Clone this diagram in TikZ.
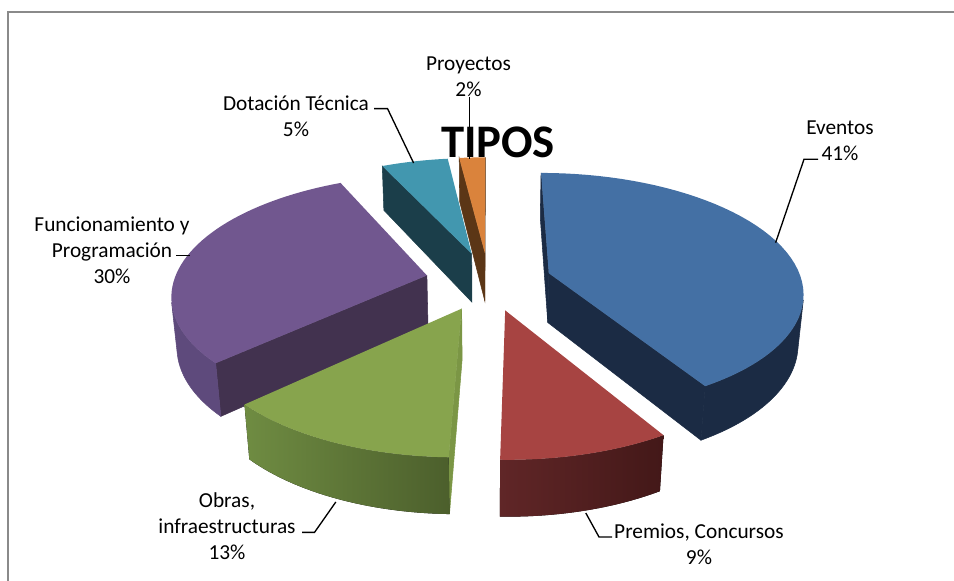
\documentclass[tikz,border=0pt]{standalone}
\usepackage{fontspec}
\setmainfont{Carlito}
\usepackage{tikz}
\usetikzlibrary{positioning,calc}

\definecolor{evtop}{HTML}{4470A4}
\definecolor{evside}{HTML}{1B2B44}
\definecolor{prtop}{HTML}{A74442}
\definecolor{prwallL}{HTML}{602627}
\definecolor{prwallR}{HTML}{431818}
\definecolor{obtop}{HTML}{87A44D}
\definecolor{obwallL}{HTML}{6F8C42}
\definecolor{obwallR}{HTML}{4C5F2C}
\definecolor{obstrip}{HTML}{7B9645}
\definecolor{futop}{HTML}{71578F}
\definecolor{fuface}{HTML}{42324F}
\definecolor{fuwall}{HTML}{5E4A7C}
\definecolor{dotop}{HTML}{4297AF}
\definecolor{doface}{HTML}{1B3E4A}
\definecolor{pytop}{HTML}{DA833C}
\definecolor{pyface}{HTML}{5B3616}
\definecolor{framegray}{HTML}{8A8A8A}

% radial face, outer wall and top of one exploded slice
\newcommand\pieface[3]{\fill[#3, draw=#3, line width=0.4pt] ({sx(0,0,0,#2)},{sy(0,0,0,#2)}) -- ({sx(#1,253,0,#2)},{sy(#1,253,0,#2)}) -- ({sx(#1,253,-57,#2)},{sy(#1,253,-57,#2)}) -- ({sx(0,0,-57,#2)},{sy(0,0,-57,#2)}) -- cycle;}
\newcommand\piewall[4]{\fill[#4] plot[domain=#1:#2,samples=30,variable=\tA] ({sx(\tA,253,0,#3)},{sy(\tA,253,0,#3)}) -- plot[domain=#2:#1,samples=30,variable=\tA] ({sx(\tA,253,-57,#3)},{sy(\tA,253,-57,#3)}) -- cycle;}
\newcommand\pietop[4]{\fill[#4] ({sx(0,0,0,#3)},{sy(0,0,0,#3)}) -- plot[domain=#1:#2,samples=50,variable=\tA] ({sx(\tA,253,0,#3)},{sy(\tA,253,0,#3)}) -- cycle;}

\begin{document}
\begin{tikzpicture}[x=0.75pt,y=-0.75pt,
  declare function={
    pX(\tA,\rA,\mA)=63.2*sin(\mA)+\rA*sin(\tA);
    pY(\tA,\rA,\mA)=63.2*cos(\mA)+\rA*cos(\tA);
    pS(\tA,\rA,\zA,\mA)=1506/(1506+0.886*pY(\tA,\rA,\mA)-0.464*\zA);
    sx(\tA,\rA,\zA,\mA)=488.5+pX(\tA,\rA,\mA)*pS(\tA,\rA,\zA,\mA);
    sy(\tA,\rA,\zA,\mA)=281-(0.464*pY(\tA,\rA,\mA)+0.886*\zA)*pS(\tA,\rA,\zA,\mA);
  },
  lbl/.style={font=\fontsize{16}{19.5}\selectfont, align=center, inner sep=0pt},
  leader/.style={draw=black, line width=1pt}]
\useasboundingbox (0,0) rectangle (954,581);
\draw[framegray, line width=1.1pt] (954,12) -- (8,12) -- (8,581);

% sides, back to front
\pieface{335}{344}{doface}
\pieface{353}{356.5}{pyface}
\pieface{360}{356.5}{pyface}
\pieface{0}{74.5}{evside}
\piewall{103}{149}{74.5}{evside, draw=evside, line width=0.4pt}
\pieface{149}{74.5}{evside}
\pieface{227}{281}{fuface}
\piewall{227}{257}{281}{fuwall, draw=fuwall, line width=0.4pt}
\piewall{149}{181.5}{165.25}{left color=prwallL, right color=prwallR}
\pieface{181.5}{204.25}{obstrip}
\piewall{181.5}{227}{204.25}{left color=obwallL, right color=obwallR}

% tops
\pietop{335}{353}{344}{dotop}
\pietop{353}{360}{356.5}{pytop}
\pietop{0}{149}{74.5}{evtop}
\pietop{227}{335}{281}{futop}
\pietop{149}{181.5}{165.25}{prtop}
\pietop{181.5}{227}{204.25}{obtop}

% title and labels
\node[font=\fontsize{35}{42}\selectfont\bfseries, inner sep=0pt] (tipos) at (498,142.6) {TIPOS};
\node[lbl] (proy) at (468.5,76.7) {Proyectos\\2\%};
\node[lbl] (dota) at (296,116.7) {Dotación Técnica\\5\%};
\node[lbl] (even) at (840,140.4) {Eventos\\41\%};
\node[lbl] (func) at (112,250) {Funcionamiento y\\Programación\\30\%};
\node[lbl] (obra) at (227,526) {Obras,\\infraestructuras\\13\%};
\node[lbl] (prem) at (699,544.6) {Premios, Concursos\\9\%};

% leader lines
\coordinate (proy-a) at (469.6,97);
\coordinate (proy-b) at (469.6,159);
\coordinate (dota-a) at (374,108.6);
\coordinate (dota-b) at (413.6,163);
\coordinate (even-a) at (818,159.3);
\coordinate (even-b) at (775.6,242.7);
\coordinate (func-a) at (176.4,255.7);
\coordinate (func-b) at (189.8,255.7);
\coordinate (obra-a) at (302,532.4);
\coordinate (obra-b) at (335.8,502);
\coordinate (prem-a) at (612,537);
\coordinate (prem-b) at (585.8,513);
\draw[leader] (proy-a) -- (proy-b);
\draw[leader] (dota-a) -- ++(13.5,0) -- (dota-b);
\draw[leader] (even-a) -- ++(-14,0) -- (even-b);
\draw[leader] (func-a) -- (func-b);
\draw[leader] (obra-a) -- ++(12.5,0) -- (obra-b);
\draw[leader] (prem-a) -- ++(-13,0) -- (prem-b);
\end{tikzpicture}
\end{document}
